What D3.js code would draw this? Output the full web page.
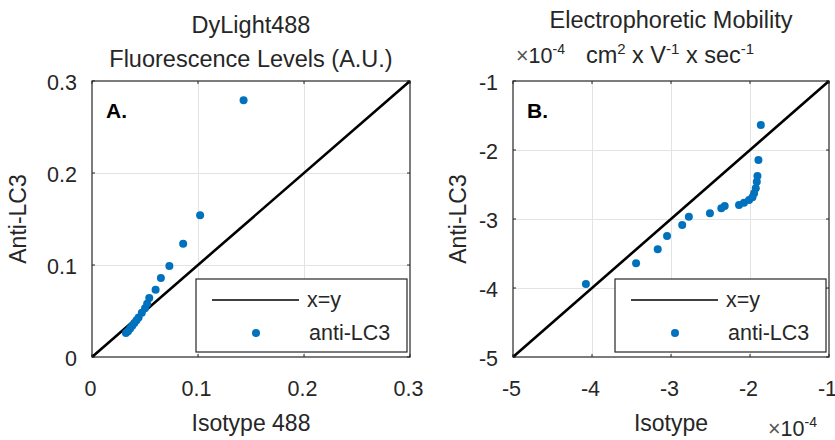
<!DOCTYPE html>
<meta charset="utf-8">
<style>
    body { margin: 0; background: #fff; }
    text { font-family: "Liberation Sans", Arial, sans-serif; fill: #262626; }
    .grid line { stroke: #e3e3e3; stroke-width: 1; }
    .grid .domain { display: none; }
    .tick-lab .domain, .tick-lab line { display: none; }
    .tick-lab text { font-size: 21.5px; }
</style>
<svg width="835" height="440"></svg>
<script src="https://d3js.org/d3.v7.min.js"></script>
<script>

    // panel A: DyLight488 fluorescence
    var isoA  = [0.143, 0.102, 0.086, 0.073, 0.065, 0.060, 0.054, 0.052, 0.050, 0.047,
                 0.044, 0.042, 0.040, 0.038, 0.036, 0.034, 0.032];
    var antiA = [0.279, 0.154, 0.123, 0.099, 0.086, 0.073, 0.064, 0.058, 0.053, 0.048,
                 0.043, 0.040, 0.037, 0.034, 0.031, 0.028, 0.026];
    var ticksA = [0, 0.1, 0.2, 0.3];
    var labelsA = ["0", "0.1", "0.2", "0.3"];

    // panel B: electrophoretic mobility (x 10^-4)
    var isoB  = [-1.863, -1.893, -1.906, -1.914, -1.927, -1.948, -1.969, -2.012, -2.076, -2.139,
                 -2.320, -2.363, -2.507, -2.774, -2.858, -3.050, -3.168, -3.442, -4.077];
    var antiB = [-1.638, -2.145, -2.377, -2.459, -2.555, -2.628, -2.686, -2.725, -2.763, -2.797,
                 -2.810, -2.845, -2.918, -2.966, -3.087, -3.246, -3.440, -3.643, -3.942];
    var ticksB = [-5, -4, -3, -2, -1];
    var labelsB = ["-5", "-4", "-3", "-2", "-1"];

    var svg = d3.select("svg");
    var yTop = 81, yBot = 357;
    var blue = "#0072BD";

    function panel(opt) {
        var x = d3.scaleLinear().domain(opt.domain).range([opt.left, opt.right]);
        var y = d3.scaleLinear().domain(opt.domain).range([yBot, yTop]);
        var g = svg.append("g");
        var h = yBot - yTop, w = opt.right - opt.left;

        // grid
        g.append("g").attr("class", "grid")
            .attr("transform", "translate(0," + yBot + ")")
            .call(d3.axisBottom(x).tickValues(opt.ticks.slice(1, -1)).tickSize(-h).tickFormat(""));
        g.append("g").attr("class", "grid")
            .attr("transform", "translate(" + opt.left + ",0)")
            .call(d3.axisLeft(y).tickValues(opt.ticks.slice(1, -1)).tickSize(-w).tickFormat(""));

        // tick labels
        g.append("g").attr("class", "tick-lab")
            .attr("transform", "translate(0," + yBot + ")")
            .call(d3.axisBottom(x).tickValues(opt.ticks).tickSize(0).tickPadding(24)
                .tickFormat(function(d, i) { return opt.labels[i]; }))
            .selectAll("text").attr("dx", "-2");
        g.append("g").attr("class", "tick-lab")
            .attr("transform", "translate(" + opt.left + ",0)")
            .call(d3.axisLeft(y).tickValues(opt.ticks).tickSize(0).tickPadding(15)
                .tickFormat(function(d, i) { return opt.labels[i]; }))
            .selectAll("text").attr("dy", "0.4em");

        // inward ticks on all sides
        var tk = g.append("g").attr("stroke", "#262626").attr("stroke-width", 1);
        opt.ticks.forEach(function(t) {
            tk.append("line").attr("x1", x(t)).attr("x2", x(t)).attr("y1", yBot).attr("y2", yBot - 3);
            tk.append("line").attr("x1", x(t)).attr("x2", x(t)).attr("y1", yTop).attr("y2", yTop + 3);
            tk.append("line").attr("y1", y(t)).attr("y2", y(t)).attr("x1", opt.left).attr("x2", opt.left + 3);
            tk.append("line").attr("y1", y(t)).attr("y2", y(t)).attr("x1", opt.right).attr("x2", opt.right - 3);
        });

        // x=y line
        g.append("line")
            .attr("x1", x(opt.domain[0])).attr("y1", y(opt.domain[0]))
            .attr("x2", x(opt.domain[1])).attr("y2", y(opt.domain[1]))
            .attr("stroke", "#000").attr("stroke-width", 2.6);

        // points
        g.append("g").selectAll("circle")
            .data(opt.iso.map(function(d, i) { return [d, opt.anti[i]]; }))
            .enter().append("circle")
            .attr("cx", function(d) { return x(d[0]); })
            .attr("cy", function(d) { return y(d[1]); })
            .attr("r", 4)
            .attr("fill", blue);

        // legend
        var lg = g.append("g").attr("transform", "translate(" + (opt.right - 214) + ",279)");
        lg.append("rect").attr("width", 211).attr("height", 73)
            .attr("fill", "#fff").attr("stroke", "#262626").attr("stroke-width", 1.2);
        lg.append("line").attr("x1", 16).attr("x2", 103).attr("y1", 21).attr("y2", 21)
            .attr("stroke", "#000").attr("stroke-width", 1.5);
        lg.append("text").attr("x", 111).attr("y", 28).attr("font-size", "21.5px").text("x=y");
        lg.append("circle").attr("cx", 60).attr("cy", 54).attr("r", 4).attr("fill", blue);
        lg.append("text").attr("x", 113).attr("y", 61).attr("font-size", "21.5px").text("anti-LC3");

        // box
        g.append("rect").attr("x", opt.left).attr("y", yTop).attr("width", w).attr("height", h)
            .attr("fill", "none").attr("stroke", "#262626").attr("stroke-width", 1.2);

        // panel letter
        g.append("text").attr("x", opt.left + 14).attr("y", 118)
            .attr("font-size", "21px").attr("font-weight", "bold").style("fill", "#000")
            .text(opt.letter);

        // axis labels
        g.append("text").attr("x", (opt.left + opt.right) / 2).attr("y", 431)
            .attr("text-anchor", "middle").attr("font-size", "23px").text(opt.xlabel);
        g.append("text")
            .attr("transform", "translate(" + opt.ylabX + "," + ((yTop + yBot) / 2) + ") rotate(-90)")
            .attr("text-anchor", "middle").attr("font-size", "23px").text("Anti-LC3");
        return g;
    }

    var gA = panel({left: 92, right: 410, domain: [0, 0.3], ticks: ticksA, labels: labelsA,
        iso: isoA, anti: antiA, letter: "A.", xlabel: "Isotype 488", ylabX: 26});
    var gB = panel({left: 513, right: 829, domain: [-5, -1], ticks: ticksB, labels: labelsB,
        iso: isoB, anti: antiB, letter: "B.", xlabel: "Isotype", ylabX: 466});

    // titles
    gA.append("text").attr("x", 251).attr("y", 33).attr("text-anchor", "middle")
        .attr("font-size", "23.5px").text("DyLight488");
    gA.append("text").attr("x", 251).attr("y", 67).attr("text-anchor", "middle")
        .attr("font-size", "23.5px").text("Fluorescence Levels (A.U.)");

    gB.append("text").attr("x", 671).attr("y", 28).attr("text-anchor", "middle")
        .attr("font-size", "23.5px").text("Electrophoretic Mobility");

    var t2 = gB.append("text").attr("x", 670).attr("y", 63).attr("text-anchor", "middle")
        .attr("font-size", "23.5px");
    t2.append("tspan").text("cm");
    t2.append("tspan").attr("dy", -9).attr("font-size", "15px").text("2");
    t2.append("tspan").attr("dy", 9).text(" x V");
    t2.append("tspan").attr("dy", -9).attr("font-size", "15px").text("-1");
    t2.append("tspan").attr("dy", 9).text(" x sec");
    t2.append("tspan").attr("dy", -9).attr("font-size", "15px").text("-1");

    // exponent labels
    function expLabel(x0, y0) {
        var t = gB.append("text").attr("x", x0).attr("y", y0).attr("font-size", "21.5px");
        t.append("tspan").style("fill", "#555").text("\u00d7");
        t.append("tspan").text("10");
        t.append("tspan").attr("dy", -9).attr("font-size", "14px").text("-4");
    }
    expLabel(516, 63);
    expLabel(768, 436);

</script>
